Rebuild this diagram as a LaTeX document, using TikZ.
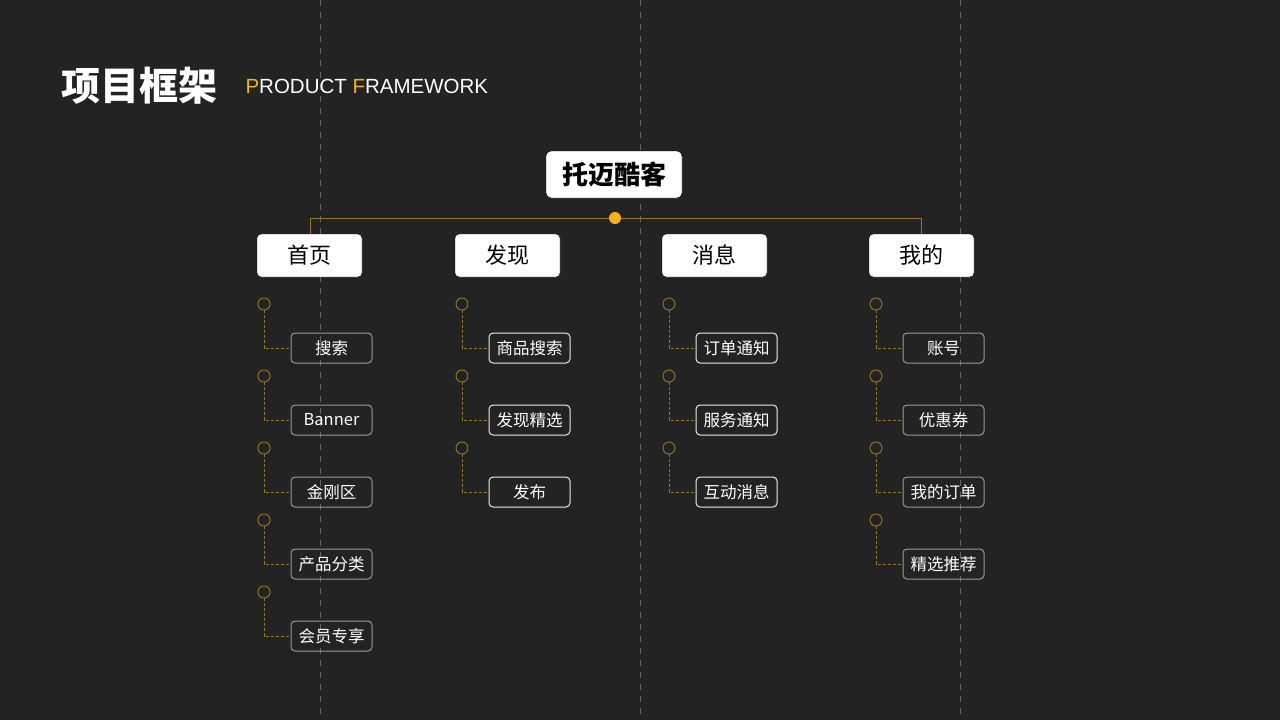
\documentclass[tikz,border=0pt]{standalone}
\usepackage{fontspec}
\setmainfont{Noto Sans CJK SC}
\newfontfamily\latf{Liberation Sans}
\definecolor{bg}{HTML}{232323}
\definecolor{gold}{HTML}{F5B11E}
\definecolor{brn}{HTML}{9A7420}
\definecolor{grid}{HTML}{666666}
\tikzset{
 catbox/.style={draw=black,fill=white,rounded corners=4pt,minimum width=105pt,minimum height=43pt,font=\fontsize{22}{22}\selectfont,text=black,inner sep=0},
 subbox/.style={draw=#1,line width=1pt,rounded corners=4pt,minimum width=81pt,minimum height=30pt,font=\fontsize{16.5}{16.5}\selectfont,text=white,inner sep=0},
 ring/.style={draw=brn,line width=0.9pt,circle,minimum size=12pt,inner sep=0},
 link/.style={draw=brn,dash pattern=on 3pt off 2pt,line width=0.8pt}
}
\begin{document}
\begin{tikzpicture}[x=1pt,y=-1pt]
\fill[bg] (0,0) rectangle (1280,720);
\useasboundingbox (0,0) rectangle (1280,720);
\foreach \gx in {320,640,960} \draw[grid,dash pattern=on 6pt off 6pt,line width=0.8pt] (\gx,0) -- (\gx,720);
\node[anchor=west,text=white,font=\fontsize{39}{39}\selectfont\bfseries] (title) at (58,86) {项目框架};
\node[anchor=west,text=white,font=\fontsize{20.5}{20.5}\latf] (sub) at (242,86) {\textcolor{gold}{P}RODUCT \textcolor{gold}{F}RAMEWORK};
\node[draw=black,fill=white,rounded corners=5pt,minimum width=136pt,minimum height=47pt,font=\fontsize{26}{26}\selectfont\bfseries,text=black,inner sep=0] (root) at (614,174.5) {托迈酷客};
\node[catbox] (c1) at (309.5,255.5) {首页};
\node[catbox] (c2) at (507.5,255.5) {发现};
\node[catbox] (c3) at (714.5,255.5) {消息};
\node[catbox] (c4) at (921.5,255.5) {我的};
\coordinate (hl) at (310,218);
\coordinate (hr) at (921,218);
\draw[brn,line width=1pt] (c1.north -| hl) -- (hl) -- (hr) -- (c4.north -| hr);
\node[fill=gold,circle,minimum size=12pt,inner sep=0] (dot) at (615,218) {};
\newcommand\col[4]{%
 \foreach \t [count=\i] in {#4} {
  \pgfmathsetmacro\yy{304+72*(\i-1)}
  \node[ring] (r#1\i) at (#2,\yy) {};
  \node[subbox=#3] (s#1\i) at (#2+67.5,\yy+44) {\t};
  \draw[link] (r#1\i.south) |- (s#1\i.west);
 }}
\col{a}{264}{gray!80}{搜索,Banner,金刚区,产品分类,会员专享}
\col{b}{462}{white!85!gray}{商品搜索,发现精选,发布}
\col{c}{669}{white!85!gray}{订单通知,服务通知,互动消息}
\col{d}{876}{gray!80}{账号,优惠券,我的订单,精选推荐}
\end{tikzpicture}
\end{document}
